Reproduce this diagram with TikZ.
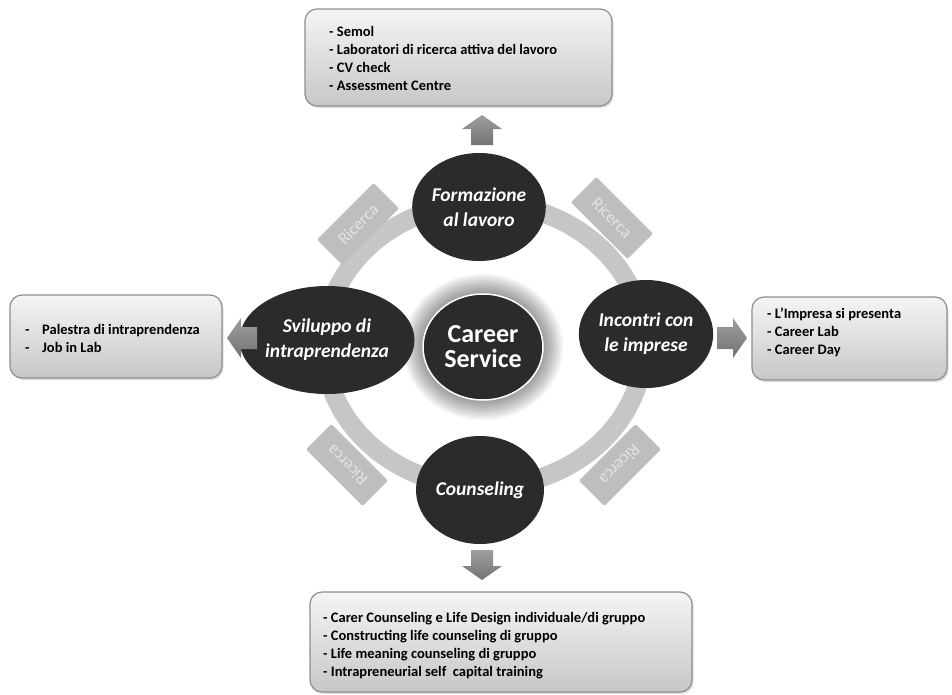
\documentclass[tikz,border=0pt]{standalone}
\usepackage{fontspec}
\setmainfont{Carlito}
\usetikzlibrary{shapes.geometric,shadows,calc}
\definecolor{circfill}{HTML}{2B2B2B}
\definecolor{ringc}{HTML}{C6C6C6}
\definecolor{ricfill}{HTML}{BEBEBE}
\definecolor{rictext}{HTML}{E4E4E4}
\definecolor{boxborder}{HTML}{8E8E8E}
\tikzset{
  hub/.style={ellipse, fill=circfill, text=white, align=center, inner sep=0pt,
    minimum width=128, minimum height=108,
    font=\fontsize{19.5}{25}\selectfont\bfseries\itshape},
  centerhub/.style={ellipse, fill=circfill, draw=white, line width=1.5pt, text=white,
    align=center, inner sep=0pt, minimum width=120, minimum height=106,
    font=\fontsize{26}{25}\selectfont\bfseries},
  ricbox/.style={rectangle, rounded corners=2pt, fill=ricfill, text=rictext,
    minimum width=80, minimum height=36, inner sep=0pt,
    font=\fontsize{17}{18}\selectfont},
  infobox/.style={rectangle, rounded corners=12pt, draw=boxborder, line width=1.2pt,
    top color=white!96!black, bottom color=black!22,
    drop shadow={opacity=0.25, shadow xshift=1.5pt, shadow yshift=-2pt},
    inner sep=0pt},
  boxtext/.style={anchor=north west, inner sep=0pt, align=left,
    font=\fontsize{14.5}{18}\selectfont\bfseries, text=black},
  barrow/.pic={
    \shade[top color=black!38, bottom color=black!55, shading angle=0]
      (0,-11) -- (16,-11) -- (16,-20) -- (30,0) -- (16,20) -- (16,11) -- (0,11) -- cycle;
  }
}
\begin{document}
\begin{tikzpicture}[x=1pt,y=-1pt]
\useasboundingbox (0,0) rectangle (952,694);
\fill[white] (0,0) rectangle (952,694);

% ring
\draw[ringc, line width=19pt] (484,345) ellipse [x radius=160, y radius=142];

% glow around the centre
\coordinate (cc) at (483,347);
\foreach \i in {1,...,10}
  \fill[black, opacity=0.045] (cc) ellipse [x radius=60+2*\i, y radius=53+2*\i];

% centre
\node[centerhub] (cs) at (cc) {Career\\Service};

% hubs
\node[hub] (form) at (479,207) {Formazione\\al lavoro};
\node[hub] (svil) at (327,340) {Sviluppo di\\intraprendenza};
\node[hub] (inco) at (646,334) {Incontri con\\le imprese};
\node[hub] (coun) at (480,490) {Counseling};

% ricerca labels
\node[ricbox, rotate=45]   (r1) at (358,224) {Ricerca};
\node[ricbox, rotate=-45]  (r2) at (612,218) {Ricerca};
\node[ricbox, rotate=135]  (r3) at (347,465) {Ricerca};
\node[ricbox, rotate=-135] (r4) at (620,465) {Ricerca};

% block arrows
\pic[rotate=90]  (au) at (482,145) {barrow};
\pic[rotate=-90] (ad) at (482,550) {barrow};
\pic[rotate=180] (al) at (257,338) {barrow};
\pic[rotate=0]   (ar) at (717,338) {barrow};

% info boxes
\node[infobox, minimum width=307, minimum height=97] (btop) at (458.5,57.5) {};
\node[infobox, minimum width=212, minimum height=83] (bleft) at (116,336.5) {};
\node[infobox, minimum width=195, minimum height=83] (bright) at (849.5,338.5) {};
\node[infobox, minimum width=382, minimum height=100] (bbot) at (501,642) {};

\node[boxtext] (ttop) at (329,26) {- Semol\\- Laboratori di ricerca attiva del lavoro\\- CV check\\- Assessment Centre};
\node[boxtext] (tleft) at (25,324) {\makebox[17pt][l]{-}Palestra di intraprendenza\\\makebox[17pt][l]{-}Job in Lab};
\node[boxtext] (tright) at (767,308) {- L'Impresa si presenta\\- Career Lab\\- Career Day};
\node[boxtext] (tbot) at (323,612) {- Carer Counseling e Life Design individuale/di gruppo\\- Constructing life counseling di gruppo\\- Life meaning counseling di gruppo\\- Intrapreneurial self\ \ capital training};
\end{tikzpicture}
\end{document}
